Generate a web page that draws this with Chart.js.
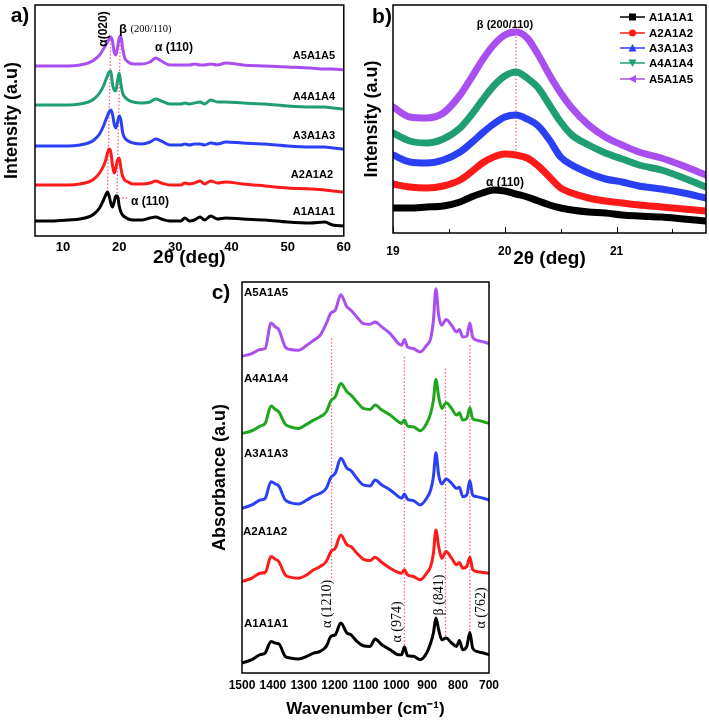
<!DOCTYPE html>
<html><head><meta charset="utf-8">
<script src="https://cdn.jsdelivr.net/npm/chart.js@4.4.0/dist/chart.umd.min.js"></script>
<style>
html,body{margin:0;padding:0;background:#fff;width:709px;height:721px;overflow:hidden;}
.box{position:absolute;}
</style></head><body>
<div class="box" style="left:0;top:0;width:355px;height:280px"><canvas id="ca"></canvas></div>
<div class="box" style="left:355px;top:0;width:354px;height:280px"><canvas id="cb"></canvas></div>
<div class="box" style="left:200px;top:280px;width:509px;height:441px"><canvas id="cc"></canvas></div>
<script>
// ---------- DATA ----------
const SERIES = ['A1A1A1','A2A1A2','A3A1A3','A4A1A4','A5A1A5'];

// Panel a: XRD, 2θ (deg) vs intensity (a.u., offset curves)
const XA = [5,8,11,13,14.5,15.5,16.5,17.2,17.6,17.9,18.2,18.5,18.8,19.1,19.4,19.7,20.0,20.3,20.6,21.0,21.6,22.5,24,25.5,26.5,27.5,29,31,31.7,32.5,33.4,34.4,35.2,36.3,37.5,39,42,46,50,54,56.6,58,60];
const XRD_A1 = [15,15,16,17,19,22,28,36,41,44,40,33,29,34,40,40,30,24,21,19,17,16,16,18,19,17,15,15,18,15,16,19,16,20,17,18,17,16,14,13,14,11,10];
const XRD_A2 = [51,51,51,52,54,57,63,70,76,83,87,84,71,63,68,76,78,68,60,56,54,52,52,53,55,53,51,51,53,52,53,55,52,55,53,54,52,50,48,47,46,45,44];
const XRD_A3 = [90,90,90,91,93,96,102,110,116,120,124,126,122,112,108,114,120,116,104,98,95,93,92,94,97,95,91,91,92,91,92,92,91,93,92,94,93,92,90,89,89,88,87];
const XRD_A4 = [131,131,131,132,134,137,143,150,156,160,164,165,152,146,145,155,163,152,143,139,136,134,133,134,137,135,132,132,133,132,133,134,132,136,134,134,133,132,130,129,129,128,127];
const XRD_A5 = [170,170,170,171,173,176,181,187,191,194,197,199,195,184,181,188,198,200,188,178,174,172,172,174,178,175,171,171,171,171,172,171,171,172,171,173,171,170,169,168,167,167,166];
const XA_TICKS = [10,20,30,40,50,60];

// Panel b: XRD zoom 19–21.8°
const XB = [19,19.15,19.3,19.45,19.6,19.7,19.8,19.9,20.0,20.1,20.2,20.3,20.4,20.5,20.6,20.75,20.9,21.05,21.2,21.4,21.6,21.8];
const ZB_A1 = [25,25,26,27,31,36,40,43,42,39,36,32,28,25,23,21,20,18,17,16,14,12];
const ZB_A2 = [49,46,45,47,53,61,70,76,79,78,75,67,56,45,40,35,32,30,28,26,24,22];
const ZB_A3 = [78,71,70,73,81,90,100,109,116,118,114,107,93,76,68,60,54,51,47,44,40,35];
const ZB_A4 = [100,92,90,94,105,118,133,147,157,161,155,145,128,111,98,88,80,74,68,63,55,46];
const ZB_A5 = [126,116,115,120,138,155,173,188,198,201,195,178,158,140,125,108,96,88,81,75,67,58];
const XB_TICKS = [19,20,21];

// Panel c: FTIR, wavenumber (cm-1) vs absorbance (a.u., offset curves)
const XC = [1500,1468,1441,1425,1406,1392,1381,1360,1344,1317,1290,1268,1247,1227,1212,1198,1180,1160,1147,1128,1107,1085,1069,1047,1020,993,983,974,964,945,923,902,889,880,872,863,853,839,821,805,796,785,772,762,753,740,718,700];
const IR_A1 = [30,40,55,60,95,90,88,50,45,42,50,60,65,80,110,115,150,120,115,95,82,80,102,85,70,55,55,78,52,50,40,60,90,120,165,130,100,105,90,80,98,70,80,122,75,65,60,55];
const IR_A2 = [275,285,300,302,350,342,335,295,288,285,295,310,320,335,365,375,415,385,380,360,342,338,348,332,315,302,300,310,295,290,280,300,320,360,430,380,345,365,345,325,332,315,320,348,312,305,302,300];
const IR_A3 = [495,505,520,525,575,568,562,520,512,508,520,532,540,555,588,600,645,615,608,585,565,562,580,565,550,530,525,538,522,518,505,525,550,590,662,595,568,583,570,555,558,530,535,578,535,530,525,520];
const IR_A4 = [720,728,742,750,802,792,785,748,740,735,748,760,770,785,818,830,870,845,835,815,795,792,805,790,775,755,750,760,742,740,728,750,780,820,882,830,795,812,795,775,782,760,765,797,765,760,755,750];
const IR_A5 = [952,960,972,975,1052,1040,1032,980,972,970,985,1000,1015,1050,1082,1090,1137,1100,1090,1070,1050,1048,1055,1040,1020,990,985,1002,980,975,965,985,1005,1060,1155,1075,1045,1062,1045,1025,1032,1010,1012,1052,1010,1000,995,990];
const XC_TICKS = [1500,1400,1300,1200,1100,1000,900,800,700];
const IR_MARKS = [1210,974,841,762];

// ---------- STYLE ----------
const COL_AB = ['#000000','#ff1a1a','#2a40f5','#1f9e73','#a94ff0'];
const COL_C  = ['#000000','#ff1a1a','#2a40f5','#1fa61f','#a94ff0'];
const SANS = "Arial, 'Liberation Sans', sans-serif";
const SERIF = "'Times New Roman', 'Liberation Serif', serif";
const PINK = '#ff5f86';

const pts = (xs, ys) => xs.map((x, i) => ({x, y: ys[i]}));
const plain = v => String(v);

const deco = {
  id: 'deco',
  beforeDatasetsDraw(chart, args, o) {
    const ctx = chart.ctx, xs = chart.scales.x, ys = chart.scales.y;
    (o.dotted || []).forEach(d => {
      ctx.save();
      ctx.strokeStyle = PINK; ctx.lineWidth = 1.3; ctx.setLineDash([1.5, 2]);
      ctx.beginPath();
      d.forEach((p, i) => {
        const X = xs.getPixelForValue(p[0]), Y = ys.getPixelForValue(p[1]);
        i ? ctx.lineTo(X, Y) : ctx.moveTo(X, Y);
      });
      ctx.stroke(); ctx.restore();
    });
  },
  afterDraw(chart, args, o) {
    const ctx = chart.ctx, a = chart.chartArea, xs = chart.scales.x;
    ctx.save();
    ctx.strokeStyle = '#000'; ctx.lineWidth = 1.5; ctx.setLineDash([]);
    ctx.strokeRect(a.left, a.top, a.right - a.left, a.bottom - a.top);
    (o.innerTicks || []).forEach(t => {
      const X = Math.round(xs.getPixelForValue(t[0])) + 0.5;
      ctx.lineWidth = 1;
      ctx.beginPath(); ctx.moveTo(X, a.bottom); ctx.lineTo(X, a.bottom - t[1]); ctx.stroke();
    });
    (o.texts || []).forEach(t => {
      ctx.save();
      ctx.font = t.font; ctx.fillStyle = t.color || '#000';
      ctx.textAlign = t.align || 'center'; ctx.textBaseline = 'middle';
      ctx.translate(t.px, t.py);
      if (t.rot) ctx.rotate(t.rot * Math.PI / 180);
      ctx.fillText(t.text, 0, 0);
      ctx.restore();
    });
    if (o.legend) {
      const L = o.legend;
      chart.data.datasets.forEach((ds, i) => {
        const y = L.rows[i];
        ctx.strokeStyle = ds.borderColor; ctx.fillStyle = ds.borderColor; ctx.lineWidth = 1.5;
        ctx.beginPath(); ctx.moveTo(L.x0, y); ctx.lineTo(L.x1, y); ctx.stroke();
        const cx = (L.x0 + L.x1) / 2, r = 3.5;
        ctx.beginPath();
        const m = L.markers[i];
        if (m === 'square') ctx.rect(cx - r, y - r, 2 * r, 2 * r);
        else if (m === 'circle') ctx.arc(cx, y, r, 0, Math.PI * 2);
        else if (m === 'up') { ctx.moveTo(cx, y - r - 0.5); ctx.lineTo(cx + r + 0.5, y + r); ctx.lineTo(cx - r - 0.5, y + r); }
        else if (m === 'down') { ctx.moveTo(cx, y + r + 0.5); ctx.lineTo(cx + r + 0.5, y - r); ctx.lineTo(cx - r - 0.5, y - r); }
        else if (m === 'left') { ctx.moveTo(cx - r - 0.5, y); ctx.lineTo(cx + r, y - r - 0.5); ctx.lineTo(cx + r, y + r + 0.5); }
        ctx.closePath(); ctx.fill();
        ctx.fillStyle = '#000'; ctx.font = L.font; ctx.textAlign = 'left'; ctx.textBaseline = 'middle';
        ctx.fillText(SERIES[i], L.tx, y + 0.5);
      });
    }
    ctx.restore();
  }
};
Chart.register(deco);

const common = (extra) => Object.assign({
  responsive: true, maintainAspectRatio: false, animation: false, devicePixelRatio: 1,
  plugins: { legend: {display: false}, tooltip: {enabled: false} },
  elements: { point: {radius: 0}, line: {cubicInterpolationMode: 'monotone', borderCapStyle: 'round', borderJoinStyle: 'round'} }
}, extra);

const keepTicks = list => scale => { scale.ticks = list.map(v => ({value: v})); };

// ---------- PANEL A ----------
new Chart(document.getElementById('ca'), {
  type: 'line',
  data: { datasets: [XRD_A1, XRD_A2, XRD_A3, XRD_A4, XRD_A5].map((d, i) => ({
    label: SERIES[i], data: pts(XA, d), borderColor: COL_AB[i], borderWidth: 3, fill: false })) },
  options: common({
    layout: { padding: {left: 0, top: 5, right: 8, bottom: 0} },
    scales: {
      x: { type: 'linear', min: 5, max: 60, afterBuildTicks: keepTicks(XA_TICKS),
           afterFit: s => { s.height = 44; },
           grid: {display: false, drawTicks: false}, border: {display: false},
           ticks: {color: '#000', padding: 4, callback: plain, font: {family: SANS, size: 13, weight: 'bold'}, maxRotation: 0},
           title: {display: true, text: '2θ (deg)', color: '#000', padding: {top: 0, bottom: 11}, font: {family: SANS, size: 19, weight: 'bold'}} },
      y: { min: 0, max: 231, afterFit: s => { s.width = 35; },
           grid: {display: false, drawTicks: false}, border: {display: false},
           ticks: {display: false},
           title: {display: true, text: 'Intensity (a.u)', color: '#000', padding: {top: 1, bottom: 0}, font: {family: SANS, size: 18, weight: 'bold'}} }
    },
    plugins: { legend: {display: false}, tooltip: {enabled: false},
      deco: {
        dotted: [ [[17.9, 44], [18.5, 196]], [[19.6, 39], [20.2, 198]], [[19.9, 38], [21.6, 38]] ],
        texts: [
          {text: 'a)', px: 20, py: 16, font: `bold 21px ${SANS}`},
          {text: 'α(020)', px: 104, py: 29, rot: -90, font: `bold 12px ${SANS}`},
          {text: 'β', px: 123, py: 29, font: `bold 13px ${SANS}`},
          {text: '(200/110)', px: 151, py: 29, font: `10.5px ${SERIF}`},
          {text: 'α (110)', px: 174, py: 48, font: `bold 12px ${SANS}`},
          {text: 'α (110)', px: 150, py: 202, font: `bold 12px ${SANS}`},
          {text: 'A5A1A5', px: 335, py: 56, align: 'right', font: `bold 11px ${SANS}`},
          {text: 'A4A1A4', px: 335, py: 97, align: 'right', font: `bold 11px ${SANS}`},
          {text: 'A3A1A3', px: 335, py: 136, align: 'right', font: `bold 11px ${SANS}`},
          {text: 'A2A1A2', px: 333, py: 175, align: 'right', font: `bold 11px ${SANS}`},
          {text: 'A1A1A1', px: 335, py: 212, align: 'right', font: `bold 11px ${SANS}`}
        ]
      } }
  })
});

// ---------- PANEL B ----------
new Chart(document.getElementById('cb'), {
  type: 'line',
  data: { datasets: [ZB_A1, ZB_A2, ZB_A3, ZB_A4, ZB_A5].map((d, i) => ({
    label: SERIES[i], data: pts(XB, d), borderColor: COL_AB[i], borderWidth: 7, fill: false })) },
  options: common({
    layout: { padding: {left: 0, top: 5, right: 3, bottom: 0} },
    scales: {
      x: { type: 'linear', min: 19, max: 21.8, afterBuildTicks: keepTicks(XB_TICKS),
           afterFit: s => { s.height = 47; },
           grid: {display: false, drawTicks: false}, border: {display: false},
           ticks: {color: '#000', padding: 11, callback: plain, font: {family: SANS, size: 12, weight: 'bold'}, maxRotation: 0},
           title: {display: true, text: '2θ (deg)', color: '#000', padding: {top: 0, bottom: 10}, font: {family: SANS, size: 19, weight: 'bold'}} },
      y: { min: 0, max: 228, afterFit: s => { s.width = 38; },
           grid: {display: false, drawTicks: false}, border: {display: false},
           ticks: {display: false},
           title: {display: true, text: 'Intensity (a.u)', color: '#000', padding: {top: 6, bottom: 0}, font: {family: SANS, size: 18, weight: 'bold'}} }
    },
    plugins: { legend: {display: false}, tooltip: {enabled: false},
      deco: {
        dotted: [ [[20.1, 200], [20.1, 83]] ],
        innerTicks: [[19, 6], [19.5, 4], [20, 6], [20.5, 4], [21, 6], [21.5, 4]],
        texts: [
          {text: 'b)', px: 27, py: 17, font: `bold 21px ${SANS}`},
          {text: 'β (200/110)', px: 150, py: 25, font: `bold 11px ${SANS}`},
          {text: 'α (110)', px: 150, py: 183, font: `bold 12px ${SANS}`}
        ],
        legend: { x0: 265, x1: 290, tx: 294, rows: [17, 33, 48, 63, 79],
                  markers: ['square', 'circle', 'up', 'down', 'left'], font: `bold 11.5px ${SANS}` }
      } }
  })
});

// ---------- PANEL C ----------
new Chart(document.getElementById('cc'), {
  type: 'line',
  data: { datasets: [IR_A1, IR_A2, IR_A3, IR_A4, IR_A5].map((d, i) => ({
    label: SERIES[i], data: pts(XC, d), borderColor: COL_C[i], borderWidth: 3, fill: false })) },
  options: common({
    layout: { padding: {left: 0, top: 2, right: 220, bottom: 0} },
    scales: {
      x: { type: 'linear', min: 700, max: 1500, reverse: true, afterBuildTicks: keepTicks(XC_TICKS),
           afterFit: s => { s.height = 48; },
           grid: {display: false, drawTicks: false}, border: {display: false},
           ticks: {color: '#000', padding: 5, autoSkip: false, callback: plain, font: {family: SANS, size: 12, weight: 'bold'}, maxRotation: 0},
           title: {display: true, text: 'Wavenumber (cm⁻¹)', color: '#000', padding: {top: 0, bottom: 1}, font: {family: SANS, size: 17, weight: 'bold'}} },
      y: { min: 0, max: 1175, afterFit: s => { s.width = 42; },
           grid: {display: false, drawTicks: false}, border: {display: false},
           ticks: {display: false},
           title: {display: true, text: 'Absorbance (a.u)', color: '#000', padding: {top: 9, bottom: 0}, font: {family: SANS, size: 18, weight: 'bold'}} }
    },
    plugins: { legend: {display: false}, tooltip: {enabled: false},
      deco: {
        dotted: [ [[IR_MARKS[0], 1005], [IR_MARKS[0], 280]], [[IR_MARKS[1], 950], [IR_MARKS[1], 80]],
                  [[IR_MARKS[2], 915], [IR_MARKS[2], 110]], [[IR_MARKS[3], 985], [IR_MARKS[3], 120]] ],
        texts: [
          {text: 'c)', px: 21, py: 13, font: `bold 21px ${SANS}`},
          {text: 'A5A1A5', px: 44, py: 13, align: 'left', font: `bold 11.5px ${SANS}`},
          {text: 'A4A1A4', px: 44, py: 99, align: 'left', font: `bold 11.5px ${SANS}`},
          {text: 'A3A1A3', px: 44, py: 174, align: 'left', font: `bold 11.5px ${SANS}`},
          {text: 'A2A1A2', px: 43, py: 252, align: 'left', font: `bold 11.5px ${SANS}`},
          {text: 'A1A1A1', px: 44, py: 344, align: 'left', font: `bold 11.5px ${SANS}`},
          {text: 'α (1210)', px: 127, py: 324, rot: -90, font: `14px ${SERIF}`},
          {text: 'α (974)', px: 197, py: 342, rot: -90, font: `14px ${SERIF}`},
          {text: 'β (841)', px: 239, py: 315, rot: -90, font: `14px ${SERIF}`},
          {text: 'α (762)', px: 281, py: 328, rot: -90, font: `14px ${SERIF}`}
        ]
      } }
  })
});
</script>
</body></html>
